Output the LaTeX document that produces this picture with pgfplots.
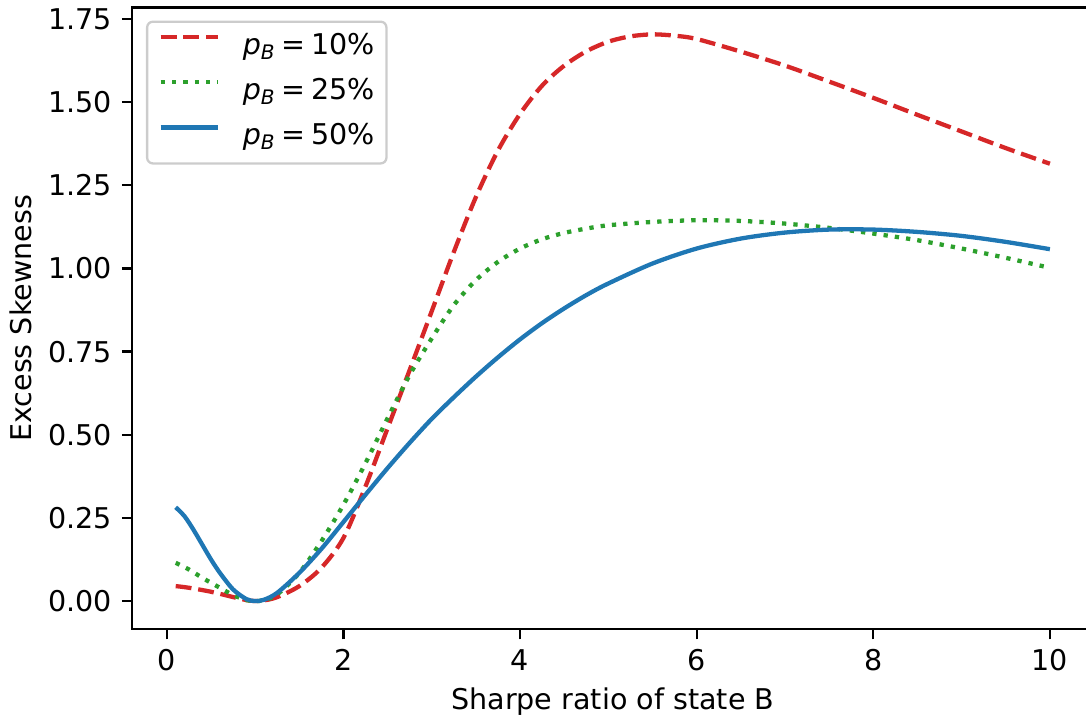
\documentclass[border=0pt]{standalone}
\usepackage{fontspec}
\setmainfont{DejaVu Sans}[ItalicFont={DejaVu Sans Oblique}]
\usepackage{pgfplots}
\pgfplotsset{compat=1.18}
\definecolor{tabred}{HTML}{D62728}
\definecolor{tabgreen}{HTML}{2CA02C}
\definecolor{tabblue}{HTML}{1F77B4}
\newcommand{\pB}[1]{\textit{p}\textsubscript{\textit{B}}\hspace{0.2em}=\hspace{0.2em}#1\%}
\begin{document}
\fontsize{10}{12}\selectfont
\begin{tikzpicture}
\useasboundingbox (-46.2pt,-31.4pt) rectangle (333.9pt,220.27pt);
\begin{axis}[
  at={(0,0)}, anchor=south west,
  scale only axis, width=336.56pt, height=217.67pt,
  xmin=-0.395, xmax=10.495, ymin=-0.085, ymax=1.785,
  axis line style={line width=0.8pt},
  every tick/.style={black, line width=0.8pt},
  tick align=outside, major tick length=3.5pt,
  xtick={0,2,4,6,8,10},
  ytick={0,0.25,0.5,0.75,1,1.25,1.5,1.75},
  xtick pos=bottom, ytick pos=left,
  /pgf/number format/assume math mode=true,
  ticklabel style={font=\fontsize{10}{12}\selectfont},
  yticklabel style={/pgf/number format/fixed, /pgf/number format/fixed zerofill, /pgf/number format/precision=2},
  xticklabel style={/pgf/number format/fixed},
  xlabel={Sharpe ratio of state B},
  ylabel={Excess Skewness},
  xlabel style={at={(axis description cs:0.5,-0.1288)}, anchor=base, font=\fontsize{10}{12}\selectfont},
  ylabel style={at={(axis description cs:-0.1040,0.5)}, anchor=base, font=\fontsize{10}{12}\selectfont},
  legend cell align=left,
  legend image code/.code={\draw[#1] (0pt,3.6pt) -- (20pt,3.6pt);},
  legend style={at={(axis description cs:0,1)}, anchor=north west, xshift=4.9pt, yshift=-4.6pt,
    draw=black!20, line width=0.8pt, rounded corners=2pt, fill=white, fill opacity=0.8, text opacity=1,
    inner xsep=4pt, inner ysep=4pt, column sep=8pt, row sep=5.8pt,
    nodes={inner sep=0pt, text height=7.5pt, text depth=2.5pt},
    font=\fontsize{10}{12}\selectfont},
]
\addplot[tabred, line width=1.5pt, line join=round, dash pattern=on 5.55pt off 2.4pt, smooth] coordinates {
(0.1,0.045)(0.25,0.040)(0.5,0.028)(0.75,0.012)(0.9,0.003)(1.0,0.0)(1.1,0.002)(1.25,0.012)
(1.5,0.045)(1.75,0.10)(2.0,0.19)(2.25,0.345)(2.5,0.52)(2.75,0.695)(3.0,0.872)(3.25,1.05)
(3.5,1.215)(3.75,1.355)(4.0,1.465)(4.25,1.55)(4.5,1.61)(4.75,1.653)(5.0,1.682)(5.25,1.698)
(5.5,1.704)(5.75,1.70)(6.0,1.69)(6.5,1.652)(7.0,1.61)(7.5,1.562)(8.0,1.513)(8.5,1.462)
(9.0,1.412)(9.5,1.362)(10.0,1.315)};
\addlegendentry{\pB{10}}
\addplot[tabgreen, line width=1.5pt, line join=round, dash pattern=on 1.5pt off 2.475pt, smooth] coordinates {
(0.1,0.115)(0.25,0.095)(0.4,0.07)(0.5,0.055)(0.6,0.04)(0.75,0.018)(0.9,0.003)(1.0,0.0)
(1.1,0.003)(1.25,0.02)(1.5,0.085)(1.75,0.18)(2.0,0.29)(2.25,0.415)(2.5,0.55)(2.75,0.68)
(3.0,0.79)(3.25,0.89)(3.5,0.965)(3.75,1.02)(4.0,1.06)(4.25,1.088)(4.5,1.107)(4.75,1.12)
(5.0,1.13)(5.5,1.14)(6.0,1.145)(6.5,1.143)(7.0,1.135)(7.5,1.122)(8.0,1.105)(8.5,1.085)
(9.0,1.06)(9.5,1.032)(10.0,1.002)};
\addlegendentry{\pB{25}}
\addplot[tabblue, line width=1.5pt, line join=round, smooth] coordinates {
(0.1,0.282)(0.2,0.255)(0.3,0.215)(0.4,0.17)(0.5,0.125)(0.6,0.085)(0.75,0.035)(0.9,0.006)
(1.0,0.0)(1.1,0.004)(1.25,0.025)(1.5,0.085)(1.75,0.157)(2.0,0.238)(2.25,0.32)(2.5,0.40)
(2.75,0.476)(3.0,0.548)(3.25,0.613)(3.5,0.675)(3.75,0.733)(4.0,0.787)(4.25,0.836)(4.5,0.88)
(4.75,0.92)(5.0,0.955)(5.5,1.015)(6.0,1.06)(6.5,1.09)(7.0,1.108)(7.5,1.117)(8.0,1.117)
(8.5,1.11)(9.0,1.098)(9.5,1.08)(10.0,1.058)};
\addlegendentry{\pB{50}}
\end{axis}
\end{tikzpicture}
\end{document}
